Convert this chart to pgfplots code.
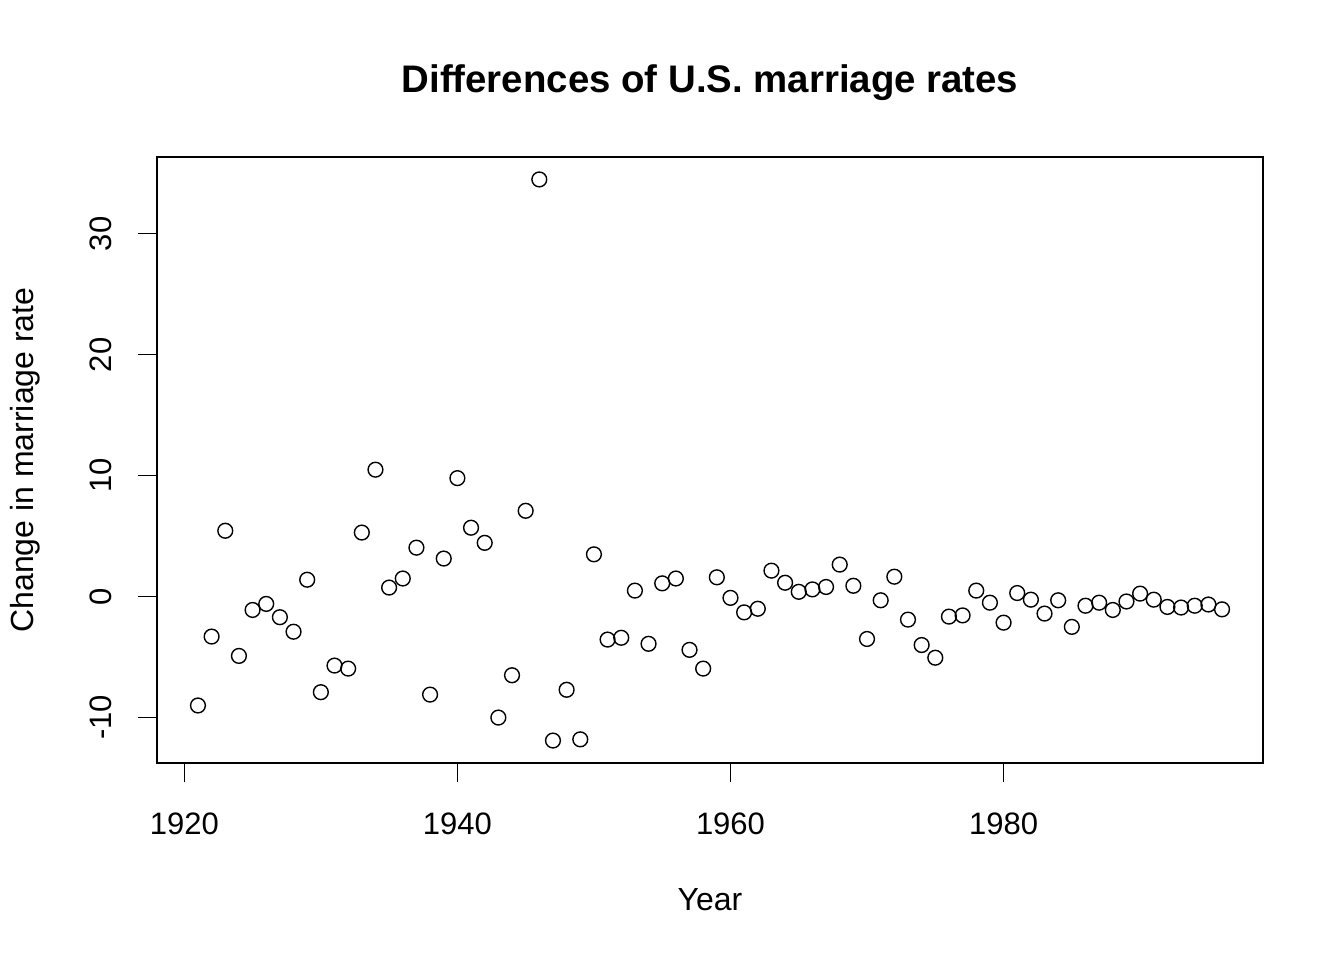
\documentclass[border=0pt]{standalone}
\usepackage{pgfplots}
\pgfplotsset{compat=1.18}
\usepackage{fontspec}
\setmainfont{Liberation Sans}
\pgfplotstableread{
year val
1921 -9.0
1922 -3.3
1923 5.45
1924 -4.9
1925 -1.1
1926 -0.6
1927 -1.7
1928 -2.9
1929 1.4
1930 -7.9
1931 -5.7
1932 -5.95
1933 5.3
1934 10.5
1935 0.75
1936 1.5
1937 4.05
1938 -8.1
1939 3.15
1940 9.8
1941 5.7
1942 4.45
1943 -10.0
1944 -6.5
1945 7.1
1946 34.5
1947 -11.9
1948 -7.7
1949 -11.8
1950 3.5
1951 -3.55
1952 -3.4
1953 0.5
1954 -3.9
1955 1.1
1956 1.5
1957 -4.4
1958 -5.95
1959 1.6
1960 -0.1
1961 -1.3
1962 -1.0
1963 2.15
1964 1.15
1965 0.4
1966 0.6
1967 0.8
1968 2.65
1969 0.9
1970 -3.5
1971 -0.3
1972 1.65
1973 -1.9
1974 -4.0
1975 -5.05
1976 -1.65
1977 -1.55
1978 0.5
1979 -0.5
1980 -2.15
1981 0.3
1982 -0.25
1983 -1.4
1984 -0.3
1985 -2.5
1986 -0.75
1987 -0.5
1988 -1.1
1989 -0.4
1990 0.25
1991 -0.25
1992 -0.85
1993 -0.9
1994 -0.75
1995 -0.65
1996 -1.05
}\marriage
\begin{document}
\begin{tikzpicture}[x=1pt,y=1pt]
\useasboundingbox (0,0) rectangle (672,480);
\begin{axis}[
  at={(78.5pt,98.5pt)}, anchor=south west,
  scale only axis, width=553pt, height=303pt,
  xmin=1918, xmax=1999, ymin=-13.756, ymax=36.356,
  axis line style={line width=0.6pt},
  xtick={1920,1940,1960,1980}, xticklabels={1920,1940,1960,1980},
  ytick={-10,0,10,20,30}, yticklabels={-10,0,10,20,30},
  xtick pos=bottom, ytick pos=left,
  tick align=outside, major tick length=9.6pt,
  every tick/.style={black, line width=0.6pt},
  tick label style={font=\fontsize{15.5}{18}\selectfont},
  xticklabel style={anchor=base, inner sep=0pt},
  xticklabel shift=25.9pt,
  yticklabel style={rotate=90, anchor=base, inner sep=0pt},
  yticklabel shift=13.4pt,
]
\addplot[only marks, mark=o, mark size=3.7pt, mark options={line width=0.7pt, black}] table[x=year, y=val] {\marriage};
\end{axis}
\node[anchor=base, font=\fontsize{19.2}{22}\selectfont\bfseries, inner sep=0pt] at (355,433.5) {Differences of U.S. marriage rates};
\node[anchor=base, font=\fontsize{16}{19}\selectfont, inner sep=0pt] at (355,25) {Year};
\node[anchor=base, rotate=90, font=\fontsize{16}{19}\selectfont, inner sep=0pt] at (16.5,250) {Change in marriage rate};
\end{tikzpicture}
\end{document}
